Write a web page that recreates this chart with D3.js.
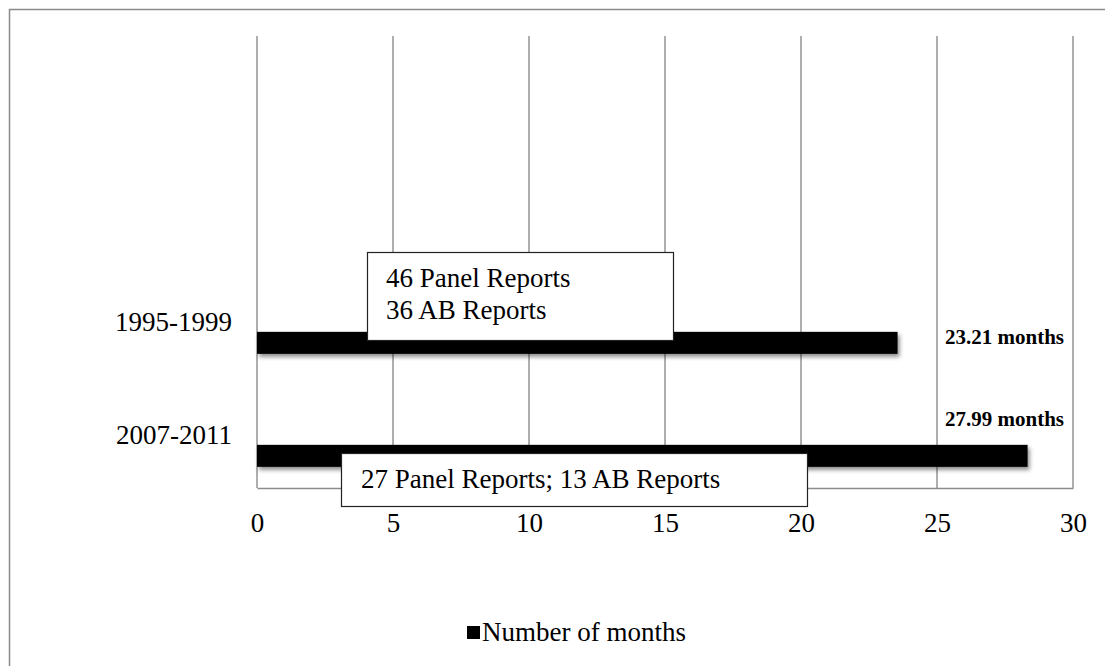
<!DOCTYPE html>
<html>
<head>
<meta charset="utf-8">
<script src="https://cdn.jsdelivr.net/npm/d3@7"></script>
<style>
  html, body { margin: 0; padding: 0; background: #fff; }
  svg { display: block; }
  text { font-family: "Liberation Serif", "Times New Roman", serif; fill: #000; }
</style>
</head>
<body>
<svg id="chart" width="1105" height="666"></svg>
<script>
// ---- data ----
const categories = ["_blank1", "_blank2", "1995-1999", "2007-2011"];
const seriesNames = ["_s1", "_s2", "Number of months"];
const monthsValues = [null, null, 23.55, 28.33];
const valueLabels = [null, null, "23.21 months", "27.99 months"];
const xTicks = [0, 5, 10, 15, 20, 25, 30];
const boxNotes1995 = ["46 Panel Reports", "36 AB Reports"];
const boxNotes2007 = ["27 Panel Reports; 13 AB Reports"];

// ---- layout ----
const W = 1105, H = 666;
const plot = { left: 257, right: 1073, top: 36, bottom: 488 };
const svg = d3.select("#chart");

const defs = svg.append("defs");
const f = defs.append("filter").attr("id", "shadow")
  .attr("x", "-5%").attr("y", "-40%").attr("width", "115%").attr("height", "200%");
f.append("feDropShadow").attr("dx", 2).attr("dy", 3).attr("stdDeviation", 2)
  .attr("flood-color", "#000").attr("flood-opacity", 0.45);

svg.append("rect").attr("width", W).attr("height", H).attr("fill", "#fff");
// outer chart border (cropped on the right and bottom)
svg.append("rect").attr("x", 9.5).attr("y", 9.5).attr("width", W + 20).attr("height", H + 20)
  .attr("fill", "none").attr("stroke", "#8a8a8a").attr("stroke-width", 1.5);

const x = d3.scaleLinear().domain([0, 30]).range([plot.left, plot.right]);
const y0 = d3.scaleBand().domain(categories).range([plot.top, plot.bottom]).padding(0);
const step = 22;
const y1 = d3.scaleBand().domain(seriesNames).range([0, y0.bandwidth()])
  .paddingInner(0).paddingOuter((y0.bandwidth() / step - seriesNames.length) / 2).align(0.55);

// gridlines
svg.append("g").selectAll("line").data(xTicks).join("line")
  .attr("x1", d => x(d)).attr("x2", d => x(d))
  .attr("y1", plot.top).attr("y2", plot.bottom)
  .attr("stroke", "#8c8c8c").attr("stroke-width", 1.4);

// x axis
const xAxis = svg.append("g").attr("transform", `translate(0,${plot.bottom})`)
  .call(d3.axisBottom(x).tickValues(xTicks).tickSize(0).tickPadding(25).tickFormat(d3.format("d")));
xAxis.select(".domain").attr("stroke", "#8c8c8c").attr("stroke-width", 1.4);
xAxis.selectAll("text").style("font-size", "27px").style("font-family", "Liberation Serif");

// y axis labels
const yAxis = svg.append("g").attr("transform", `translate(${plot.left},0)`)
  .call(d3.axisLeft(y0).tickSize(0).tickPadding(25)
    .tickFormat(d => d.startsWith("_") ? "" : d));
yAxis.select(".domain").remove();
yAxis.selectAll("text").style("font-size", "27px").style("font-family", "Liberation Serif")
  .attr("dy", "0.45em");

// bars
const barData = categories.map((c, i) => ({ cat: c, value: monthsValues[i], label: valueLabels[i] }))
  .filter(d => d.value != null);
svg.append("g").selectAll("rect").data(barData).join("rect")
  .attr("x", x(0))
  .attr("y", d => y0(d.cat) + y1("Number of months"))
  .attr("width", d => x(d.value) - x(0))
  .attr("height", y1.bandwidth())
  .attr("fill", "#000")
  .attr("filter", "url(#shadow)");

// value labels (bold)
const labelPos = { "1995-1999": { dx: 688, dy: 12 }, "2007-2011": { dx: 688, dy: -19 } };
svg.append("g").selectAll("text").data(barData).join("text")
  .attr("x", d => x(0) + labelPos[d.cat].dx)
  .attr("y", d => y0(d.cat) + y1("Number of months") + labelPos[d.cat].dy)
  .style("font-size", "21px").style("font-weight", "bold")
  .text(d => d.label);

// annotation boxes
function noteBox(x0, y0v, w, h, lines, tx, tyFirst, lineGap) {
  const g = svg.append("g");
  g.append("rect").attr("x", x0 + 0.5).attr("y", y0v + 0.5).attr("width", w).attr("height", h)
    .attr("fill", "#fff").attr("stroke", "#222").attr("stroke-width", 1.2);
  g.selectAll("text").data(lines).join("text")
    .attr("x", tx).attr("y", (d, i) => tyFirst + i * lineGap)
    .style("font-size", "27px").text(d => d);
}
noteBox(367, 252, 306, 88, boxNotes1995, 386, 287, 32);
noteBox(341, 453, 466, 53, boxNotes2007, 361, 488, 0);

// legend
const lg = svg.append("g").attr("transform", "translate(467,633)");
lg.append("rect").attr("x", 0).attr("y", -7).attr("width", 13).attr("height", 13).attr("fill", "#000");
lg.append("text").attr("x", 15).attr("y", 8).style("font-size", "27px").text(seriesNames[2]);
</script>
</body>
</html>
